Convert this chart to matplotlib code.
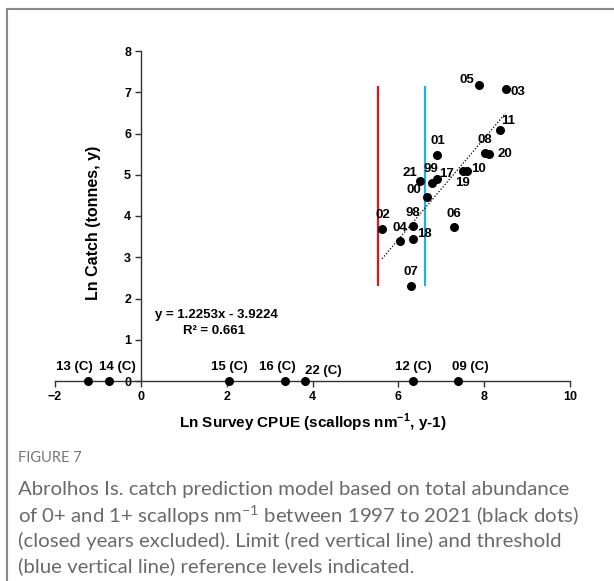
import matplotlib
matplotlib.use("Agg")
import matplotlib.pyplot as plt
from matplotlib.lines import Line2D

# open years: survey CPUE (x) vs catch (y), both ln
open_years = ['05', '03', '11', '01', '08', '20', '10', '19', '17',
              '99', '21', '00', '98', '02', '04', '18', '06', '07']
open_cpue = [7.88, 8.50, 8.37, 6.91, 8.01, 8.12, 7.60, 7.50, 6.89,
             6.79, 6.51, 6.66, 6.34, 5.63, 6.05, 6.34, 7.30, 6.30]
open_catch = [7.17, 7.09, 6.09, 5.48, 5.52, 5.50, 5.10, 5.10, 4.90,
              4.79, 4.84, 4.47, 3.76, 3.68, 3.39, 3.44, 3.73, 2.31]

# closed years, catch = 0
closed_years = ['13 (C)', '14 (C)', '15 (C)', '16 (C)', '22 (C)', '12 (C)', '09 (C)']
closed_cpue = [-1.23, -0.75, 2.06, 3.37, 3.82, 6.35, 7.40]
closed_catch = [0, 0, 0, 0, 0, 0, 0]

# regression
slope = 1.2253
intercept = -3.9224
r2 = 0.661
trend_x = [5.62, 8.50]

# reference levels
limit_x = 5.52
threshold_x = 6.62
ref_y = [2.31, 7.16]

# label offsets in pixels (dx, dy)
open_off = {'05': (-12, 5), '03': (12, -3), '11': (8, 9), '01': (0, 14), '08': (0, 13),
            '20': (16, 0), '10': (12, 2), '19': (0, -12), '17': (10, 5), '99': (-1, 14),
            '21': (-10, 8), '00': (-13, 7), '98': (0, 13), '02': (0, 14), '04': (-1, 13),
            '18': (12, 5), '06': (0, 13), '07': (0, 14)}
closed_off = {'13 (C)': (-14, 14), '14 (C)': (9, 14), '15 (C)': (0, 14), '16 (C)': (-8, 14),
              '22 (C)': (19, 10), '12 (C)': (0, 14), '09 (C)': (12, 14)}

caption_lines = ['Abrolhos Is. catch prediction model based on total abundance',
                 'of 0+ and 1+ scallops nm$^{-1}$ between 1997 to 2021 (black dots)',
                 '(closed years excluded). Limit (red vertical line) and threshold',
                 '(blue vertical line) reference levels indicated.']

plt.rcParams['font.family'] = ['Liberation Sans', 'DejaVu Sans']
plt.rcParams['mathtext.fontset'] = 'custom'
plt.rcParams['mathtext.rm'] = 'Lato'
plt.rcParams['mathtext.bf'] = 'Liberation Sans:bold'

W, H = 614, 581
fig = plt.figure(figsize=(W / 100, H / 100), dpi=100)
ax = fig.add_axes([55 / W, 1 - 381 / H, 515 / W, 330 / H])

ax.set_xlim(-2, 10)
ax.set_ylim(0, 8)
ax.spines['top'].set_visible(False)
ax.spines['right'].set_visible(False)
ax.spines['left'].set_position(('data', 0))
for s in ['left', 'bottom']:
    ax.spines[s].set_linewidth(1.0)
    ax.spines[s].set_color('#333333')
ax.set_xticks(range(-2, 11, 2))
ax.set_yticks(range(0, 9))
ax.tick_params(direction='out', length=4, width=1, color='#333333',
               labelsize=9, pad=3)
for t in ax.get_xticklabels() + ax.get_yticklabels():
    t.set_fontweight('bold')

ax.vlines(limit_x, ref_y[0], ref_y[1], color='#e3101e', lw=1.6, zorder=2)
ax.vlines(threshold_x, ref_y[0], ref_y[1], color='#1fb0e6', lw=1.6, zorder=2)

ty = [slope * x + intercept for x in trend_x]
ax.plot(trend_x, ty, color='black', lw=0.9, ls=(0, (1, 1.5)), zorder=2)

ax.scatter(open_cpue, open_catch, s=30, color='black', zorder=3, clip_on=False)
ax.scatter(closed_cpue, closed_catch, s=30, color='black', zorder=3, clip_on=False)

for lab, x, y in zip(open_years, open_cpue, open_catch):
    ax.annotate(lab, (x, y), xytext=open_off[lab], textcoords='offset pixels',
                ha='center', va='center', fontsize=9.5, fontweight='bold')
for lab, x, y in zip(closed_years, closed_cpue, closed_catch):
    ax.annotate(lab, (x, y), xytext=closed_off[lab], textcoords='offset pixels',
                ha='center', va='center', fontsize=9.5, fontweight='bold')

ax.text(1.77, 1.60, 'y = %.4fx - %.4f' % (slope, -intercept), ha='center', va='center',
        fontsize=9.5, fontweight='bold')
ax.text(1.70, 1.22, 'R² = %.3f' % r2, ha='center', va='center',
        fontsize=9.5, fontweight='bold')

ax.set_ylabel('Ln Catch (tonnes, y)', fontsize=11.5, fontweight='bold')
ax.yaxis.set_label_coords((101 - 55) / 515, 0.48)
ax.set_xlabel('Ln Survey CPUE (scallops nm$^{\\mathbf{-1}}$, y-1)', fontsize=11,
              fontweight='bold')
ax.xaxis.set_label_coords(0.5, -(412 - 381) / 330)

# frame around figure
fig.add_artist(Line2D([7 / W, 7 / W], [0, 1 - 9 / H], color='#8a8a8a', lw=1.5))
fig.add_artist(Line2D([7 / W, 1], [1 - 9 / H, 1 - 9 / H], color='#8a8a8a', lw=1.5))

fig.text(18 / W, 1 - 458 / H, 'FIGURE 7', fontsize=10.5, color='#777777',
         family=['Lato', 'DejaVu Sans'], va='center')
for i, line in enumerate(caption_lines):
    fig.text(18 / W, 1 - (490 + 25.5 * i) / H, line, fontsize=14.7, color='#6a6a6a',
             family=['Lato', 'DejaVu Sans'], va='center')

fig.savefig('out.png', dpi=100)
